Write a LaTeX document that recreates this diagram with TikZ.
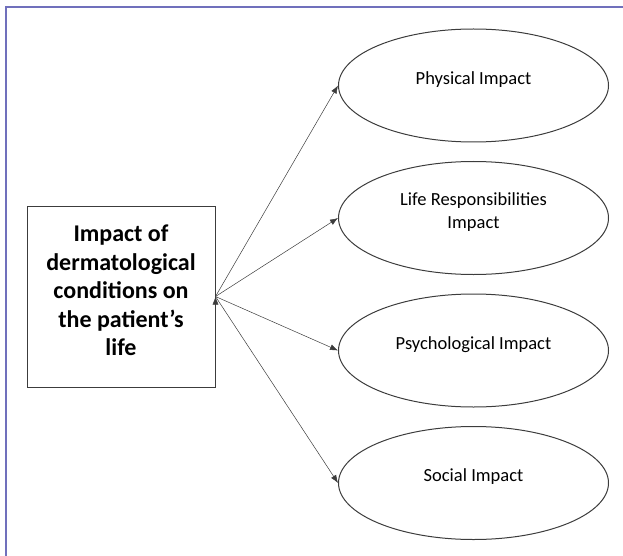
\documentclass[tikz,border=0pt]{standalone}
\usepackage{fontspec}
\setmainfont{Carlito}
\usetikzlibrary{positioning,shapes.geometric,arrows.meta}
\definecolor{framecolor}{RGB}{112,112,188}
\definecolor{linegray}{RGB}{60,60,60}

\begin{document}
\begin{tikzpicture}[x=1pt,y=-1pt,
    every node/.style={draw=linegray, line width=1pt},
    impact/.style={ellipse, minimum width=270pt, minimum height=113pt, inner sep=0pt, align=center, text depth=15pt, font=\fontsize{18.5}{22.5}\selectfont},
    node distance=18.5pt]
  \useasboundingbox (0,0) rectangle (623,556);
  \draw [framecolor, line width=2.5pt] (623,7) -- (6,7) -- (6,556);

  \node [minimum width=188pt, minimum height=181pt, inner sep=0pt, align=center, text depth=12pt,
         font=\fontsize{24}{28.5}\selectfont\bfseries] (condition) at (121,296.5)
        {Impact of\\dermatological\\conditions on\\the patient's\\life};

  \node [impact] (physical) at (473.5,85.5) {Physical Impact};
  \node [impact, below=of physical] (responsibilities) {Life Responsibilities\\Impact};
  \node [impact, below=of responsibilities] (psychological) {Psychological Impact};
  \node [impact, below=of psychological] (social) {Social Impact};

  \draw [-{Latex[length=8pt,width=6pt]}, linegray, line width=0.5pt] (condition.east) edge (physical.west) (condition.east) edge (responsibilities.west) (condition.east) edge (psychological.west) (condition.east) edge (social.west);

\end{tikzpicture}
\end{document}
